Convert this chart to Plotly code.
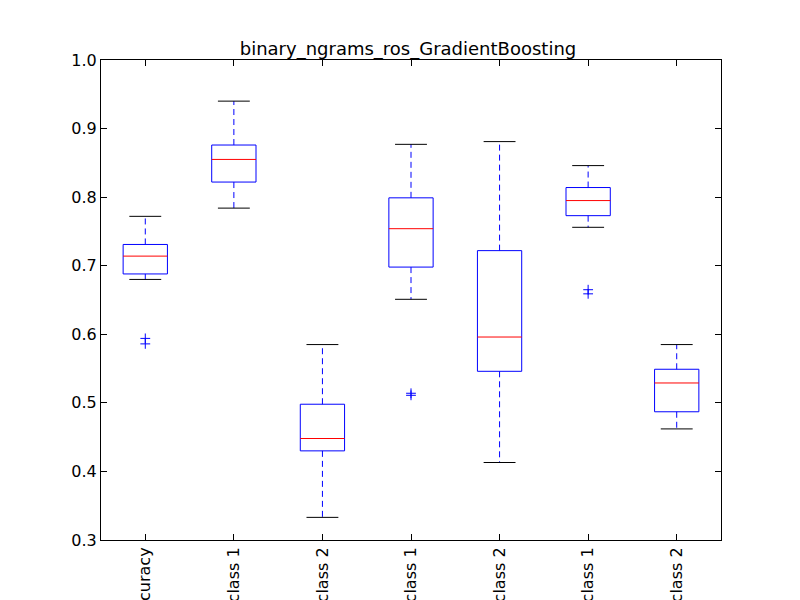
"""Boxplots of classifier scores (binary_ngrams_ros_GradientBoosting)."""
import plotly.graph_objects as go

# data
labels = ["accuracy", "precision class 1", "precision class 2", "recall class 1",
          "recall class 2", "f1 class 1", "f1 class 2"]
whisker_lo = [0.680, 0.784, 0.333, 0.651, 0.413, 0.756, 0.462]
q1 = [0.688, 0.822, 0.430, 0.698, 0.546, 0.773, 0.487]
median = [0.714, 0.855, 0.448, 0.754, 0.596, 0.795, 0.529]
q3 = [0.731, 0.876, 0.498, 0.799, 0.722, 0.814, 0.549]
whisker_hi = [0.772, 0.940, 0.585, 0.877, 0.881, 0.846, 0.585]
outliers = [[0.586, 0.594], [], [], [0.511, 0.514], [], [0.659, 0.665], []]

BW = 0.25   # half box width
CW = 0.18   # half cap width

fig = go.Figure()
for i in range(len(labels)):
    p = i + 1
    # box
    fig.add_trace(go.Scatter(x=[p - BW, p + BW, p + BW, p - BW, p - BW],
                             y=[q1[i], q1[i], q3[i], q3[i], q1[i]],
                             mode="lines", line=dict(color="blue", width=1)))
    # whiskers
    fig.add_trace(go.Scatter(x=[p, p, None, p, p],
                             y=[q1[i], whisker_lo[i], None, q3[i], whisker_hi[i]],
                             mode="lines", line=dict(color="blue", width=1, dash="6px,4px")))
    # caps
    fig.add_trace(go.Scatter(x=[p - CW, p + CW, None, p - CW, p + CW],
                             y=[whisker_lo[i], whisker_lo[i], None, whisker_hi[i], whisker_hi[i]],
                             mode="lines", line=dict(color="black", width=1)))
    # median
    fig.add_trace(go.Scatter(x=[p - BW, p + BW], y=[median[i], median[i]],
                             mode="lines", line=dict(color="red", width=1)))
    # outliers
    if outliers[i]:
        fig.add_trace(go.Scatter(x=[p] * len(outliers[i]), y=outliers[i], mode="markers",
                                 marker=dict(symbol="cross-thin", size=7,
                                             line=dict(color="blue", width=1))))

fig.update_layout(
    width=800, height=600, showlegend=False,
    plot_bgcolor="white", paper_bgcolor="white",
    font=dict(family="DejaVu Sans", size=16, color="black"),
    title=dict(text="binary_ngrams_ros_GradientBoosting", x=0.5, xanchor="center",
               y=0.922, yanchor="bottom", font=dict(size=18)),
    margin=dict(l=93, r=87, t=52, b=68),
    xaxis=dict(range=[0.5, 7.5], tickvals=list(range(1, 8)), ticktext=labels,
               tickangle=-90, automargin=False, showgrid=False, zeroline=False,
               showline=True, linecolor="black", mirror="ticks", ticks="inside",
               ticklen=6, tickcolor="black"),
    yaxis=dict(range=[0.3, 1.0], dtick=0.1, tickformat=".1f", showgrid=False,
               zeroline=False, showline=True, linecolor="black", mirror="ticks",
               ticks="inside", ticklen=6, tickcolor="black"),
)

fig.write_html("out.html")
